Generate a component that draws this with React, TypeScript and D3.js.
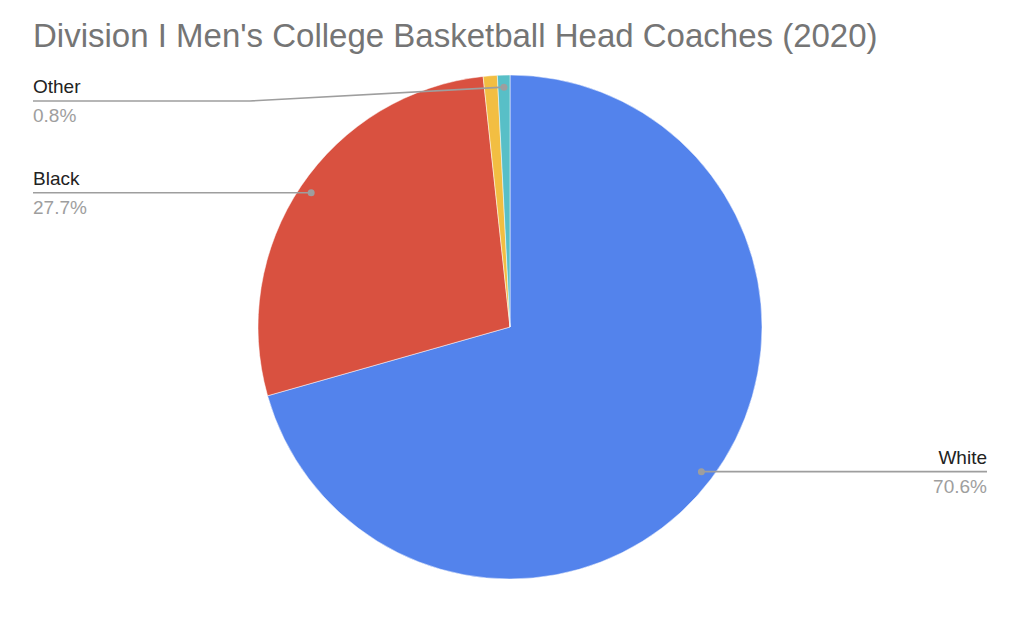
import React from 'react';
import * as d3 from 'd3';

// chart data
const categories = ['White', 'Black', 'Asian', 'Other'];
const shares = [70.6, 27.7, 0.9, 0.8];
const colors = ['#5383ec', '#d95140', '#f2be42', '#58bfc7'];
const showLabel = [true, true, false, true];

const title = "Division I Men's College Basketball Head Coaches (2020)";

const App: React.FC = () => {
  const width = 1024;
  const height = 644;
  const cx = 510;
  const cy = 327;
  const radius = 252;

  const pie = d3.pie<number>().sort(null).value(d => d);
  const arcs = pie(shares);
  const arc = d3.arc<d3.PieArcDatum<number>>().innerRadius(0).outerRadius(radius);

  const fmt = d3.format('.1f');

  return (
    <div style={{ position: 'fixed', left: 0, top: 0 }}>
      <svg width={width} height={height} style={{ display: 'block', background: '#fff' }}>
        <text x={33} y={47} fontFamily="'Liberation Sans', Arial, sans-serif" fontSize={33} fill="#757575">
          {title}
        </text>
        <g transform={`translate(${cx},${cy})`}>
          {arcs.map((a, i) => (
            <path key={categories[i]} d={arc(a) || ''} fill={colors[i]} stroke="#fff" strokeWidth={0.5} />
          ))}
        </g>
        {arcs.map((a, i) => {
          if (!showLabel[i]) return null;
          const mid = (a.startAngle + a.endAngle) / 2;
          const r = radius * 0.952;
          const dx = cx + r * Math.sin(mid);
          const dy = cy - r * Math.cos(mid);
          const right = Math.sin(mid) > 0;
          const lineY = Math.max(dy, 101);
          const endX = right ? 987 : 33;
          const elbowX = right ? endX : 250;
          const pts: [number, number][] =
            lineY === dy
              ? [[dx, dy], [endX, lineY]]
              : [[dx, dy], [elbowX, lineY], [endX, lineY]];
          const line = d3.line()(pts) || '';
          const anchor = right ? 'end' : 'start';
          return (
            <g key={categories[i]} fontFamily="'Liberation Sans', Arial, sans-serif" fontSize={19}>
              <path d={line} fill="none" stroke="#9e9e9e" strokeWidth={1.6} />
              <circle cx={dx} cy={dy} r={3.5} fill="#9e9e9e" />
              <text x={endX} y={lineY - 8} textAnchor={anchor} fill="#222">
                {categories[i]}
              </text>
              <text x={endX} y={lineY + 21} textAnchor={anchor} fill="#9e9e9e">
                {fmt(shares[i])}%
              </text>
            </g>
          );
        })}
      </svg>
    </div>
  );
};

export default App;
